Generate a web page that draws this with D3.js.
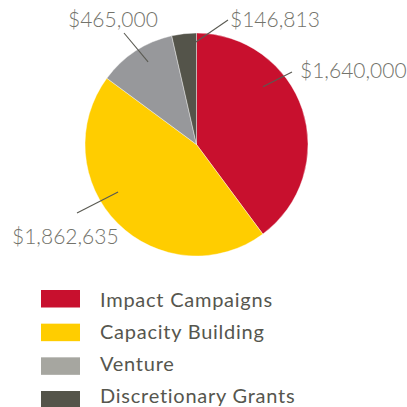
<!DOCTYPE html>
<html><head><meta charset="utf-8">
<script src="https://cdn.jsdelivr.net/npm/d3@7"></script>
<style>body{margin:0;background:#fff}svg{display:block}</style>
</head><body>
<svg id="c" width="407" height="407"></svg>
<script>
const categories = ["Impact Campaigns", "Capacity Building", "Venture", "Discretionary Grants"];
const values = [1640000, 1862635, 465000, 146813];
const valueLabels = ["$1,640,000", "$1,862,635", "$465,000", "$146,813"];
const colors = ["#C8102E", "#FFCD00", "#97989B", "#54544A"];
const legendColors = ["#C8102E", "#FFCD00", "#A6A6A0", "#54544A"];

const svg = d3.select("#c");
const cx = 196.5, cy = 144.5, R = 111.5;
const g = svg.append("g").attr("transform", `translate(${cx},${cy})`);
const pie = d3.pie().sort(null).value(d => d)(values);
const arc = d3.arc().innerRadius(0).outerRadius(R);
g.selectAll("path").data(pie).join("path")
  .attr("d", arc).attr("fill", (d, i) => colors[i])
  .attr("stroke", "#fff").attr("stroke-width", 0.4);

// leader layout: inner point (angle deg, radius), outer point offset, text position
const leaders = [
  {a: 49, r: 88, ox: 95.5, oy: -72.5, tx: 103.5, ty: -66.5},
  {a: 238.8, r: 91.7, ox: -119.5, oy: 68.5, tx: -184.5, ty: 99.5},
  {a: 329.6, r: 95.7, ox: -72.5, oy: -111.5, tx: -128.5, ty: -117.5},
  {a: 359.7, r: 102.5, ox: 31.5, oy: -124.5, tx: 33.5, ty: -117.5}
];
leaders.forEach((L, i) => {
  const t = L.a * Math.PI / 180;
  const x1 = Math.sin(t) * L.r, y1 = -Math.cos(t) * L.r;
  g.append("line").attr("x1", x1).attr("y1", y1).attr("x2", L.ox).attr("y2", L.oy)
    .attr("stroke", "#5a5a52").attr("stroke-width", 1.1);
  g.append("text").attr("x", L.tx).attr("y", L.ty)
    .attr("font-family", "Lato, sans-serif").attr("font-weight", 300)
    .attr("font-size", 21).attr("fill", "#73736b").text(valueLabels[i]);
});

const lg = svg.append("g");
const rectY = d3.scalePoint().domain(categories).range([290, 391]);
const textY = d3.scalePoint().domain(categories).range([307, 403]);
categories.forEach((c, i) => {
  lg.append("rect").attr("x", 41).attr("y", rectY(c)).attr("width", 39).attr("height", 17.5)
    .attr("fill", legendColors[i]);
  lg.append("text").attr("x", 100).attr("y", textY(c))
    .attr("font-family", "Lato, sans-serif").attr("font-size", 20)
    .attr("letter-spacing", 0.75)
    .attr("fill", "#56564e").text(c);
});
</script>
</body></html>
